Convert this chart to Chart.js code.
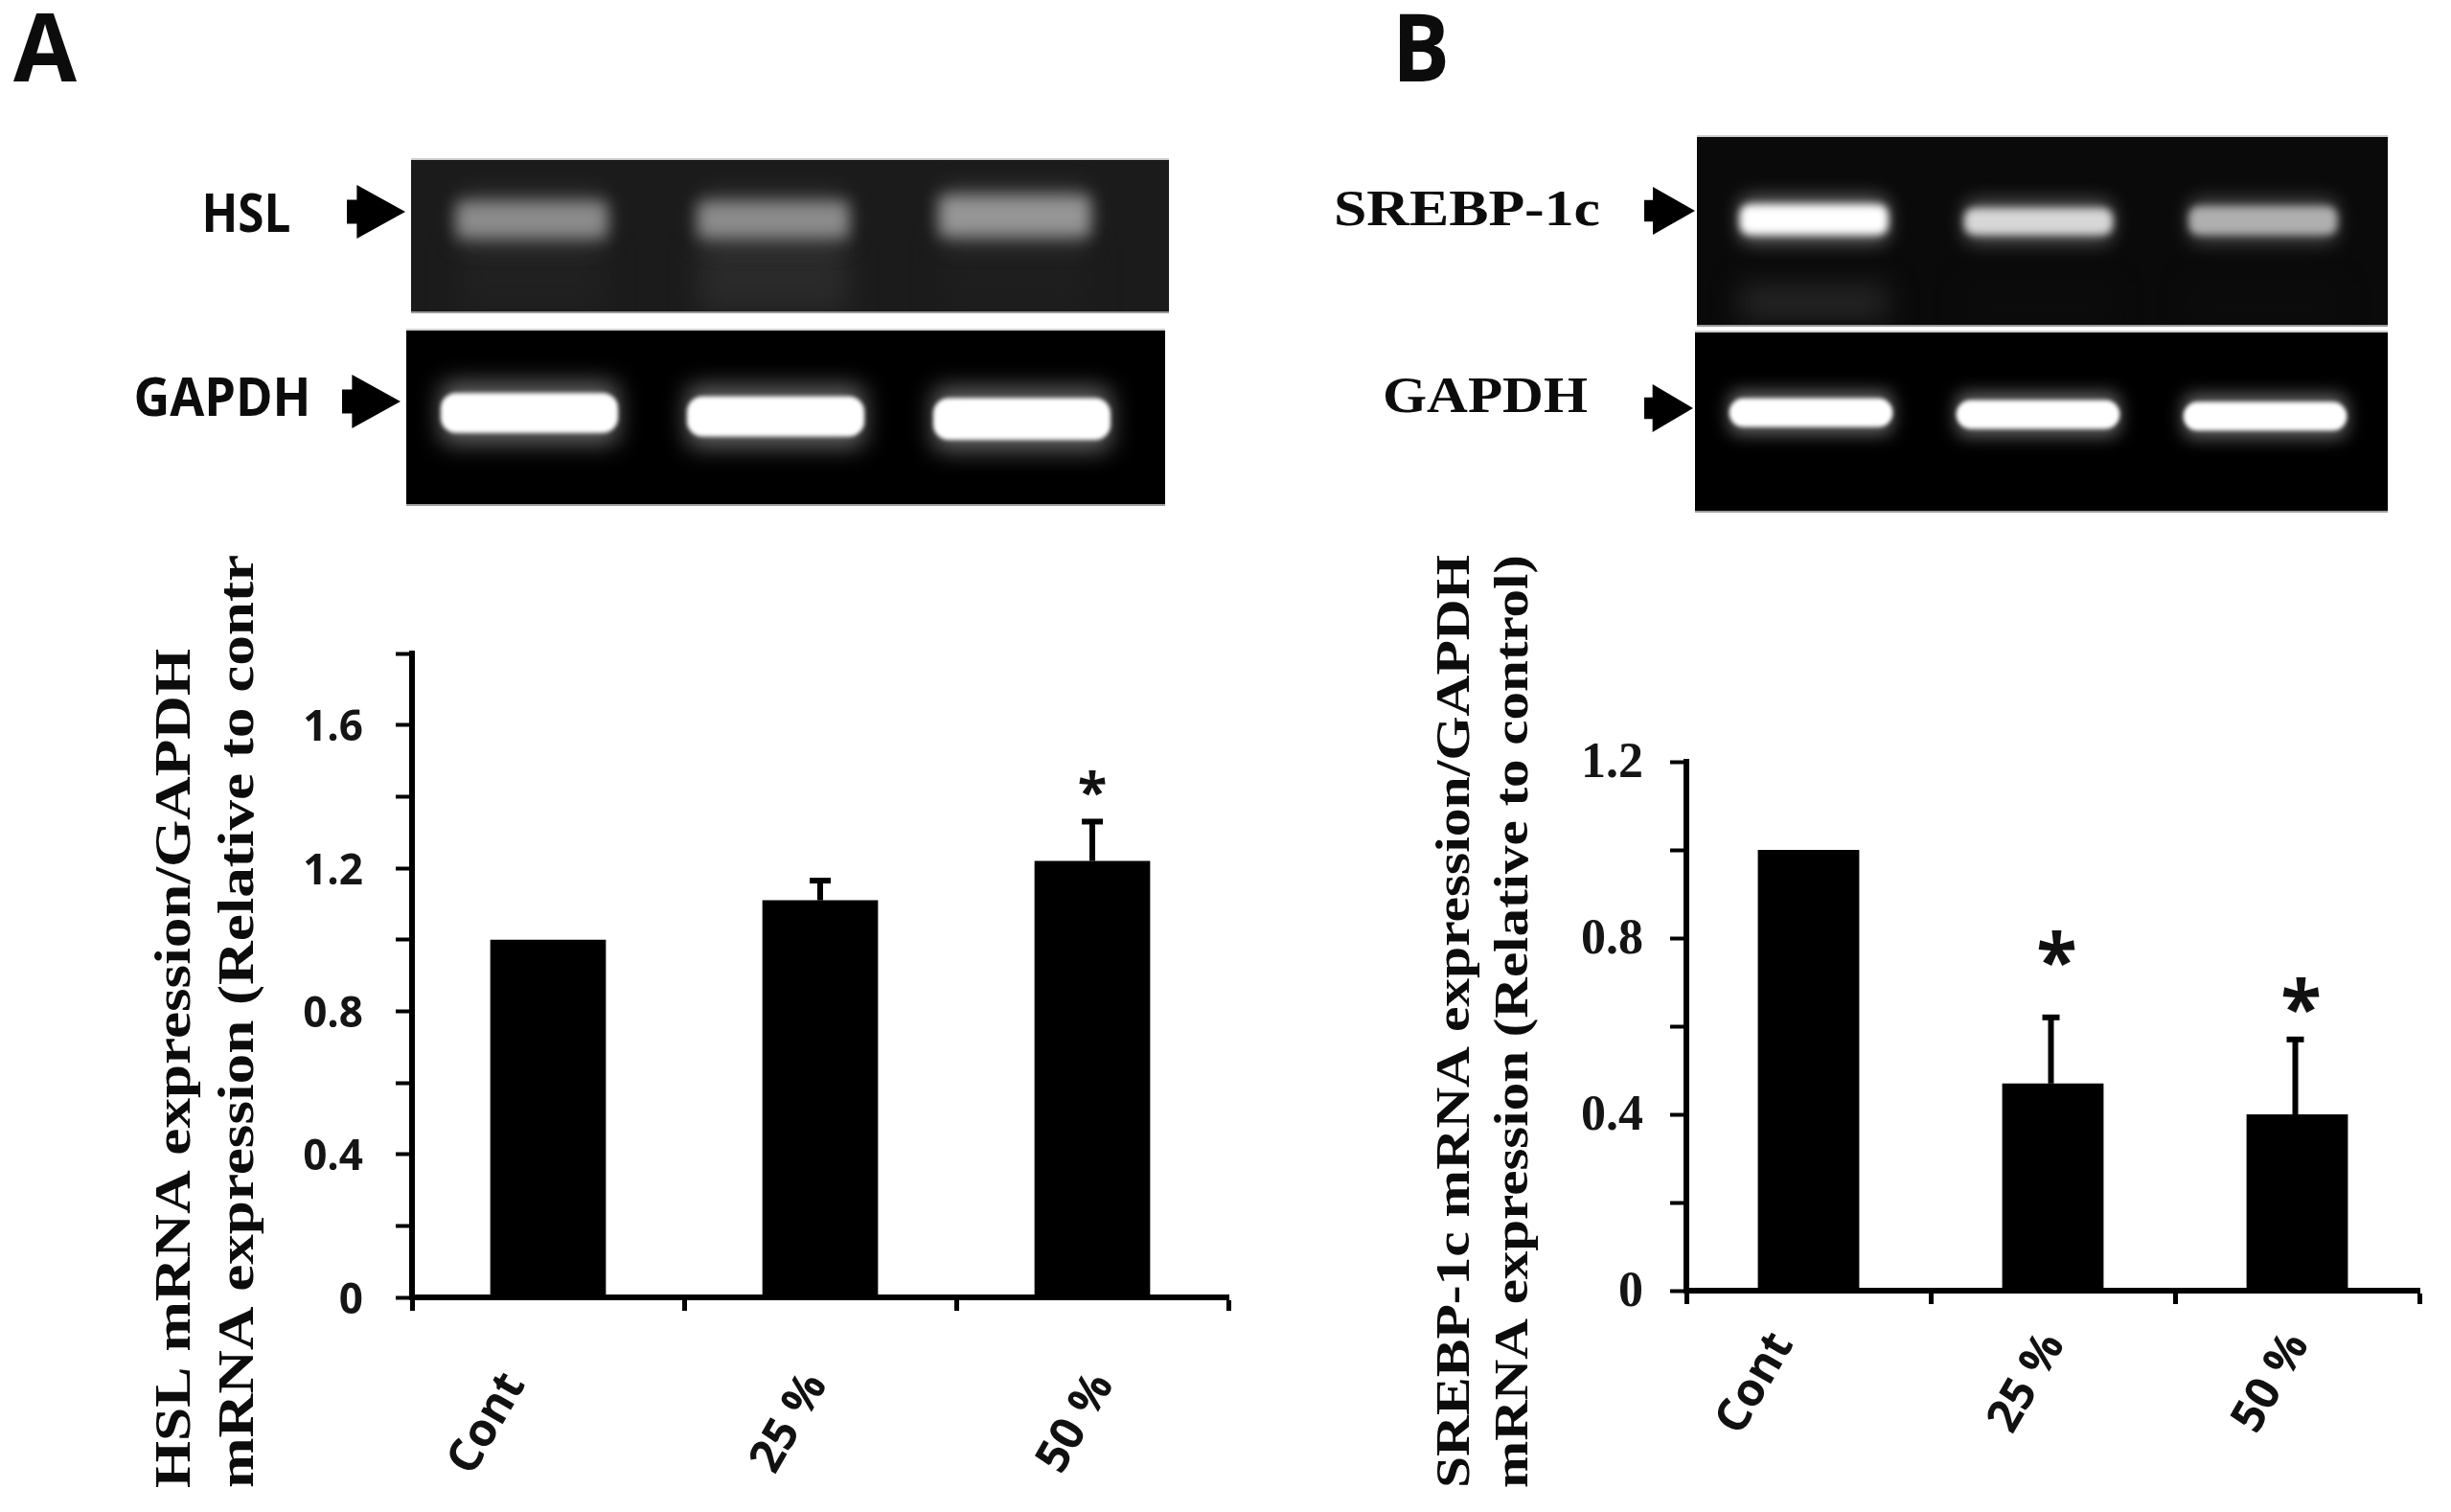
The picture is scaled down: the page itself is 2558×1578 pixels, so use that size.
<!DOCTYPE html>
<html>
<head>
<meta charset="utf-8">
<title>HSL and SREBP-1c mRNA expression</title>
<script src="https://cdn.jsdelivr.net/npm/chart.js@4"></script>
<style>
  html, body { margin: 0; padding: 0; background: #fff; }
  body { position: relative; width: 2558px; height: 1578px; overflow: hidden; }
  canvas { position: absolute; display: block; }
</style>
</head>
<body>
<canvas id="panelA"></canvas>
<canvas id="panelB"></canvas>
<canvas id="gelHsl"></canvas>
<canvas id="gelGapdhA"></canvas>
<canvas id="gelSrebp"></canvas>
<canvas id="gelGapdhB"></canvas>
<script>
// Bar data
const categories = ['Cont', '25 %', '50 %'];
const hslValues = [1.0, 1.11, 1.22];
const hslErrorTops = [null, 1.165, 1.33];
const hslStars = [null, null, 1.43];
const hslTickLabels = ['0', '0.4', '0.8', '1.2', '1.6'];
const srebpValues = [1.0, 0.47, 0.4];
const srebpErrorTops = [null, 0.62, 0.57];
const srebpStars = [null, 0.765, 0.66];
const srebpTickLabels = ['0', '0.4', '0.8', '1.2'];

// Gel bands: [top, bottom] as % of gel height, brightness 0-255
const hslBands = [[28, 51], [28, 51], [24, 50]];
const hslBright = [140, 140, 150];
const hslSmear = [[55, 100], [55, 100], [55, 100]];
const hslSmearBright = [32, 42, 30];
const gapdhBandsA = [[36, 59], [38, 61], [39, 63]];
const gapdhBrightA = [255, 255, 255];
const srebpBands = [[36, 52], [38, 52], [37, 52]];
const srebpBright = [255, 215, 175];
const srebpSmear = [[78, 98], [78, 98], [78, 98]];
const srebpSmearBright = [36, 12, 12];
const gapdhBandsB = [[37, 53], [38, 54], [39, 55]];
const gapdhBrightB = [255, 255, 255];

const byId = (id) => document.getElementById(id);
const gray = (v, a = 1) => `rgba(${v},${v},${v},${a})`;

// text squeezed or stretched to a measured length, optionally rotated
function fitText(ctx, text, cx, cy, length, font, rotate = 0, color = '#0c0c0c') {
  ctx.save();
  ctx.font = font;
  ctx.fillStyle = color;
  ctx.textAlign = 'center';
  ctx.textBaseline = 'alphabetic';
  ctx.translate(cx, cy);
  ctx.rotate(rotate);
  ctx.scale(length / ctx.measureText(text).width, 1);
  ctx.fillText(text, 0, 0);
  ctx.restore();
}

function arrow(ctx, x0, x1, yMid, halfH) {
  const tail = x0 + (x1 - x0) * 0.17;
  ctx.fillStyle = '#000';
  ctx.beginPath();
  ctx.moveTo(x0, yMid - halfH * 0.45);
  ctx.lineTo(tail, yMid - halfH * 0.45);
  ctx.lineTo(tail, yMid - halfH);
  ctx.lineTo(x1, yMid);
  ctx.lineTo(tail, yMid + halfH);
  ctx.lineTo(tail, yMid + halfH * 0.45);
  ctx.lineTo(x0, yMid + halfH * 0.45);
  ctx.closePath();
  ctx.fill();
}

function makePanel(o) {
  const cv = byId(o.id);
  cv.width = o.w; cv.height = 1578;
  cv.style.left = o.x + 'px'; cv.style.top = '0px';

  const overlay = {
    id: 'overlay',
    // the slanted labels are not evenly spaced in the figure
    beforeDraw(chart) {
      const { x } = chart.scales;
      x.getLabelItems(chart.chartArea).forEach((item, i) => {
        item.options.translation[0] += o.labelNudge[i];
      });
    },
    afterDatasetsDraw(chart) {
      const { ctx, scales: { x, y } } = chart;
      ctx.save();
      ctx.strokeStyle = '#000';
      // error bars, upper side only
      o.errors.forEach((top, i) => {
        if (top === null) return;
        const px = x.getPixelForValue(i) + o.errShift;
        const yTop = y.getPixelForValue(top);
        ctx.lineWidth = 6;
        ctx.beginPath();
        ctx.moveTo(px, y.getPixelForValue(o.values[i]));
        ctx.lineTo(px, yTop);
        ctx.stroke();
        ctx.beginPath();
        ctx.moveTo(px - o.capHalf, yTop);
        ctx.lineTo(px + o.capHalf, yTop);
        ctx.stroke();
      });
      ctx.fillStyle = '#111';
      ctx.font = o.starFont;
      ctx.textAlign = 'center';
      ctx.textBaseline = 'middle';
      o.stars.forEach((s, i) => {
        if (s === null) return;
        ctx.fillText('*', x.getPixelForValue(i) + o.starShift, y.getPixelForValue(s) + o.starDrop);
      });
      ctx.restore();
      o.decorate(ctx);
    }
  };

  return new Chart(cv.getContext('2d'), {
    type: 'bar',
    data: {
      labels: categories,
      datasets: [{
        data: o.values,
        backgroundColor: '#000',
        barPercentage: o.barPct,
        categoryPercentage: 1
      }]
    },
    plugins: [overlay],
    options: {
      responsive: false, animation: false,
      layout: { padding: { left: 0, top: o.top, right: o.right, bottom: 0 } },
      plugins: { legend: { display: false }, tooltip: { enabled: false } },
      scales: {
        x: {
          afterFit: (s) => { s.height = o.xHeight; },
          border: { color: '#000', width: 6 },
          grid: { drawOnChartArea: false, offset: true, tickLength: 14, tickColor: '#000', tickWidth: 5 },
          ticks: { color: '#111', font: { family: 'Open Sans', weight: 'bold', size: 48 }, minRotation: 60, maxRotation: 60, padding: o.xPad, autoSkip: false }
        },
        y: {
          min: 0, max: o.max,
          afterFit: (s) => { s.width = o.axisX; },
          border: { color: '#000', width: 6 },
          grid: { drawOnChartArea: false, tickLength: 17, tickColor: '#000', tickWidth: 4 },
          ticks: {
            stepSize: 0.2, padding: o.yPad, color: '#151515',
            font: o.yFont, labelOffset: o.yNudge,
            autoSkip: false,
            callback: (v) => {
              const t = String(+(+v).toFixed(1));
              return o.tickLabels.includes(t) ? t : '';
            }
          }
        }
      }
    }
  });
}

// blur per dataset, the gel bands are soft
const bandBlur = {
  id: 'bandBlur',
  beforeDatasetDraw(chart, args) {
    chart.ctx.save();
    chart.ctx.filter = `blur(${chart.data.datasets[args.index].blur}px)`;
  },
  afterDatasetDraw(chart) { chart.ctx.restore(); }
};

function makeGel(o) {
  const cv = byId(o.id);
  cv.width = o.w; cv.height = o.h;
  cv.style.left = o.x + 'px'; cv.style.top = o.y + 'px';
  cv.style.background = o.bg;
  cv.style.boxShadow = '0 2px 0 #9a9a9a, 0 -2px 0 #cfcfcf';
  const halo = o.bands.map(([a, b]) => [a - o.haloPct, b + o.haloPct]);
  const bar = { borderSkipped: false, barPercentage: o.barPct, categoryPercentage: 1, grouped: false, clip: false };
  const datasets = [
    { ...bar, data: halo, blur: o.haloBlur, backgroundColor: o.bright.map((b) => gray(b, o.haloAlpha)), borderRadius: 10, order: 2 },
    { ...bar, data: o.bands, blur: o.coreBlur, backgroundColor: o.bright.map((b) => gray(b)), borderRadius: o.radius, order: 1 }
  ];
  if (o.smear) {
    datasets.push({ ...bar, data: o.smear, blur: 14, backgroundColor: o.smearBright.map((b) => gray(b)), borderRadius: 0, order: 3 });
  }
  return new Chart(cv.getContext('2d'), {
    type: 'bar',
    data: { labels: categories, datasets },
    plugins: [bandBlur],
    options: {
      responsive: false, animation: false,
      layout: { padding: { left: o.padL, right: o.padR, top: 0, bottom: 0 } },
      plugins: { legend: { display: false }, tooltip: { enabled: false } },
      scales: {
        x: { display: false },
        y: { display: false, min: 0, max: 100, reverse: true }
      }
    }
  });
}

makePanel({
  id: 'panelA', x: 0, w: 1300, top: 682, right: 18, xHeight: 224, axisX: 430, max: 1.8,
  values: hslValues, errors: hslErrorTops, stars: hslStars, tickLabels: hslTickLabels,
  barPct: 0.425, errShift: 0, capHalf: 11, starFont: 'bold 56px "Open Sans"', starShift: 0, starDrop: 10,
  xPad: 55, yPad: 34, yNudge: 4, labelNudge: [-35, -4, 11], yFont: { family: 'Open Sans', weight: 'bold', size: 44 },
  decorate(ctx) {
    fitText(ctx, 'A', 47, 85, 66, 'bold 98px "Open Sans"');
    fitText(ctx, 'HSL', 257, 242, 93, 'bold 56px "Open Sans"');
    fitText(ctx, 'GAPDH', 232, 434, 185, 'bold 56px "Open Sans"');
    arrow(ctx, 362, 423, 221, 28);
    arrow(ctx, 357, 418, 419, 28);
    fitText(ctx, 'HSL mRNA expression/GAPDH', 198, 1115, 876, 'bold 52px "Liberation Serif"', -Math.PI / 2);
    fitText(ctx, 'mRNA expression (Relative to contr', 264, 1066, 974, 'bold 52px "Liberation Serif"', -Math.PI / 2);
  }
});

makePanel({
  id: 'panelB', x: 1300, w: 1258, top: 795, right: 33, xHeight: 231, axisX: 460, max: 1.2,
  values: srebpValues, errors: srebpErrorTops, stars: srebpStars, tickLabels: srebpTickLabels,
  barPct: 0.415, errShift: -2, capHalf: 9, starFont: 'bold 78px "Open Sans"', starShift: 4, starDrop: 14,
  xPad: 20, yPad: 28, yNudge: 3, labelNudge: [-27, 1, 1], yFont: { family: 'Liberation Serif', weight: 'bold', size: 52 },
  decorate(ctx) {
    const dx = -1300;
    fitText(ctx, 'B', 1483 + dx, 85, 60, 'bold 98px "Open Sans"');
    fitText(ctx, 'SREBP-1c', 1531 + dx, 235, 278, 'bold 52px "Liberation Serif"');
    fitText(ctx, 'GAPDH', 1550 + dx, 430, 214, 'bold 52px "Liberation Serif"');
    arrow(ctx, 1716 + dx, 1769 + dx, 220, 25);
    arrow(ctx, 1716 + dx, 1767 + dx, 426, 25);
    fitText(ctx, 'SREBP-1c mRNA expression/GAPDH', 1533 + dx, 1066, 974, 'bold 50px "Liberation Serif"', -Math.PI / 2);
    fitText(ctx, 'mRNA expression (Relative to control)', 1594 + dx, 1066, 974, 'bold 50px "Liberation Serif"', -Math.PI / 2);
  }
});

makeGel({ id: 'gelHsl', x: 429, y: 167, w: 791, h: 158, bg: '#1b1b1b', padL: 0, padR: 35, barPct: 0.62,
  bands: hslBands, bright: hslBright, haloPct: 5, haloBlur: 12, haloAlpha: 0.35, coreBlur: 8, radius: 4,
  smear: hslSmear, smearBright: hslSmearBright });
makeGel({ id: 'gelGapdhA', x: 424, y: 345, w: 792, h: 181, bg: '#000', padL: 0, padR: 21, barPct: 0.72,
  bands: gapdhBandsA, bright: gapdhBrightA, haloPct: 6, haloBlur: 12, haloAlpha: 0.4, coreBlur: 2, radius: 16 });
makeGel({ id: 'gelSrebp', x: 1771, y: 143, w: 721, h: 196, bg: '#0a0a0a', padL: 5, padR: 13, barPct: 0.66,
  bands: srebpBands, bright: srebpBright, haloPct: 4, haloBlur: 10, haloAlpha: 0.4, coreBlur: 4, radius: 10,
  smear: srebpSmear, smearBright: srebpSmearBright });
makeGel({ id: 'gelGapdhB', x: 1769, y: 347, w: 723, h: 186, bg: '#000', padL: 2.5, padR: 9.5, barPct: 0.72,
  bands: gapdhBandsB, bright: gapdhBrightB, haloPct: 4, haloBlur: 9, haloAlpha: 0.4, coreBlur: 2, radius: 15 });
</script>
</body>
</html>
